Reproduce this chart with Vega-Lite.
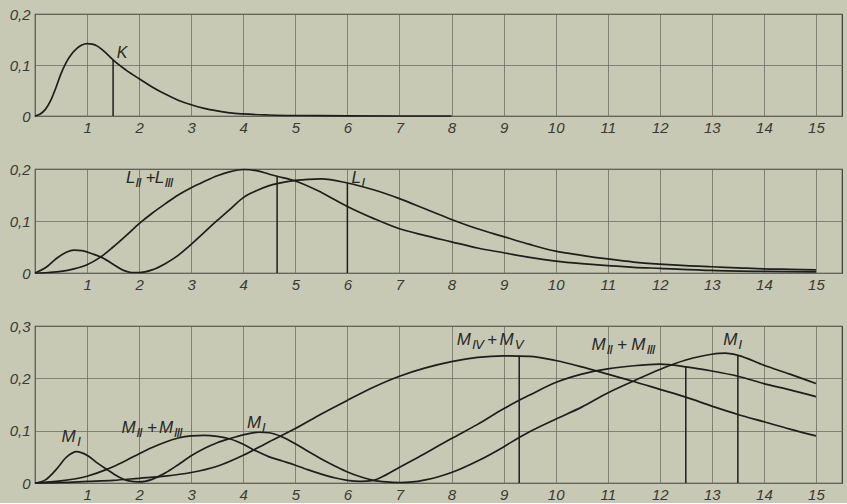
{
"$schema": "https://vega.github.io/schema/vega-lite/v6.json",
"padding": {"top": 6, "left": 8, "right": 5, "bottom": 0},
"background": "#c7c9b5",
"datasets": {
"curves": [
{"p":1,"s":"K","x":0,"y":0},{"p":1,"s":"K","x":0.1,"y":0.004},{"p":1,"s":"K","x":0.2,"y":0.013},{"p":1,"s":"K","x":0.3,"y":0.03},{"p":1,"s":"K","x":0.4,"y":0.055},{"p":1,"s":"K","x":0.5,"y":0.083},{"p":1,"s":"K","x":0.6,"y":0.105},{"p":1,"s":"K","x":0.7,"y":0.121},{"p":1,"s":"K","x":0.8,"y":0.132},{"p":1,"s":"K","x":0.9,"y":0.139},{"p":1,"s":"K","x":1.0,"y":0.142},{"p":1,"s":"K","x":1.1,"y":0.141},{"p":1,"s":"K","x":1.2,"y":0.137},{"p":1,"s":"K","x":1.3,"y":0.129},{"p":1,"s":"K","x":1.4,"y":0.12},{"p":1,"s":"K","x":1.5,"y":0.11},{"p":1,"s":"K","x":1.75,"y":0.09},{"p":1,"s":"K","x":2.0,"y":0.073},{"p":1,"s":"K","x":2.25,"y":0.057},{"p":1,"s":"K","x":2.5,"y":0.043},{"p":1,"s":"K","x":2.75,"y":0.031},{"p":1,"s":"K","x":3.0,"y":0.022},{"p":1,"s":"K","x":3.25,"y":0.015},{"p":1,"s":"K","x":3.5,"y":0.01},{"p":1,"s":"K","x":3.75,"y":0.006},{"p":1,"s":"K","x":4.0,"y":0.004},{"p":1,"s":"K","x":4.5,"y":0.002},{"p":1,"s":"K","x":5.0,"y":0.001},{"p":1,"s":"K","x":6.0,"y":0.0003},{"p":1,"s":"K","x":7.0,"y":0},{"p":1,"s":"K","x":8.0,"y":0},

{"p":2,"s":"LI","x":0,"y":0},{"p":2,"s":"LI","x":0.2,"y":0.01},{"p":2,"s":"LI","x":0.4,"y":0.027},{"p":2,"s":"LI","x":0.6,"y":0.04},{"p":2,"s":"LI","x":0.75,"y":0.044},{"p":2,"s":"LI","x":0.9,"y":0.043},{"p":2,"s":"LI","x":1.1,"y":0.037},{"p":2,"s":"LI","x":1.26,"y":0.031},{"p":2,"s":"LI","x":1.5,"y":0.017},{"p":2,"s":"LI","x":1.7,"y":0.005},{"p":2,"s":"LI","x":1.85,"y":0.001},{"p":2,"s":"LI","x":2.0,"y":0.001},{"p":2,"s":"LI","x":2.25,"y":0.006},{"p":2,"s":"LI","x":2.5,"y":0.018},{"p":2,"s":"LI","x":2.75,"y":0.034},{"p":2,"s":"LI","x":3.0,"y":0.055},{"p":2,"s":"LI","x":3.25,"y":0.078},{"p":2,"s":"LI","x":3.5,"y":0.101},{"p":2,"s":"LI","x":3.75,"y":0.123},{"p":2,"s":"LI","x":4.0,"y":0.145},{"p":2,"s":"LI","x":4.25,"y":0.158},{"p":2,"s":"LI","x":4.5,"y":0.168},{"p":2,"s":"LI","x":4.65,"y":0.172},{"p":2,"s":"LI","x":5.0,"y":0.178},{"p":2,"s":"LI","x":5.5,"y":0.181},{"p":2,"s":"LI","x":6.0,"y":0.173},{"p":2,"s":"LI","x":6.5,"y":0.16},{"p":2,"s":"LI","x":7.0,"y":0.143},{"p":2,"s":"LI","x":7.5,"y":0.123},{"p":2,"s":"LI","x":8.0,"y":0.103},{"p":2,"s":"LI","x":8.5,"y":0.085},{"p":2,"s":"LI","x":9.0,"y":0.07},{"p":2,"s":"LI","x":9.5,"y":0.055},{"p":2,"s":"LI","x":10.0,"y":0.042},{"p":2,"s":"LI","x":10.5,"y":0.034},{"p":2,"s":"LI","x":11.0,"y":0.027},{"p":2,"s":"LI","x":11.5,"y":0.021},{"p":2,"s":"LI","x":12.0,"y":0.017},{"p":2,"s":"LI","x":12.5,"y":0.014},{"p":2,"s":"LI","x":13.0,"y":0.012},{"p":2,"s":"LI","x":13.5,"y":0.01},{"p":2,"s":"LI","x":14.0,"y":0.008},{"p":2,"s":"LI","x":14.5,"y":0.007},{"p":2,"s":"LI","x":15.0,"y":0.006},

{"p":2,"s":"LII","x":0,"y":0},{"p":2,"s":"LII","x":0.25,"y":0.001},{"p":2,"s":"LII","x":0.5,"y":0.003},{"p":2,"s":"LII","x":0.75,"y":0.008},{"p":2,"s":"LII","x":1.0,"y":0.016},{"p":2,"s":"LII","x":1.25,"y":0.03},{"p":2,"s":"LII","x":1.5,"y":0.05},{"p":2,"s":"LII","x":1.75,"y":0.072},{"p":2,"s":"LII","x":2.0,"y":0.095},{"p":2,"s":"LII","x":2.25,"y":0.115},{"p":2,"s":"LII","x":2.5,"y":0.133},{"p":2,"s":"LII","x":2.75,"y":0.15},{"p":2,"s":"LII","x":3.0,"y":0.164},{"p":2,"s":"LII","x":3.25,"y":0.176},{"p":2,"s":"LII","x":3.5,"y":0.187},{"p":2,"s":"LII","x":3.75,"y":0.195},{"p":2,"s":"LII","x":4.0,"y":0.199},{"p":2,"s":"LII","x":4.25,"y":0.197},{"p":2,"s":"LII","x":4.5,"y":0.19},{"p":2,"s":"LII","x":4.65,"y":0.186},{"p":2,"s":"LII","x":5.0,"y":0.177},{"p":2,"s":"LII","x":5.5,"y":0.155},{"p":2,"s":"LII","x":6.0,"y":0.128},{"p":2,"s":"LII","x":6.5,"y":0.105},{"p":2,"s":"LII","x":7.0,"y":0.085},{"p":2,"s":"LII","x":7.5,"y":0.072},{"p":2,"s":"LII","x":8.0,"y":0.06},{"p":2,"s":"LII","x":8.5,"y":0.048},{"p":2,"s":"LII","x":9.0,"y":0.039},{"p":2,"s":"LII","x":9.5,"y":0.03},{"p":2,"s":"LII","x":10.0,"y":0.023},{"p":2,"s":"LII","x":10.5,"y":0.018},{"p":2,"s":"LII","x":11.0,"y":0.014},{"p":2,"s":"LII","x":11.5,"y":0.011},{"p":2,"s":"LII","x":12.0,"y":0.009},{"p":2,"s":"LII","x":13.0,"y":0.005},{"p":2,"s":"LII","x":14.0,"y":0.003},{"p":2,"s":"LII","x":15.0,"y":0.002},

{"p":3,"s":"MI","x":0,"y":0},{"p":3,"s":"MI","x":0.2,"y":0.006},{"p":3,"s":"MI","x":0.4,"y":0.025},{"p":3,"s":"MI","x":0.6,"y":0.049},{"p":3,"s":"MI","x":0.8,"y":0.06},{"p":3,"s":"MI","x":1.0,"y":0.053},{"p":3,"s":"MI","x":1.2,"y":0.038},{"p":3,"s":"MI","x":1.38,"y":0.026},{"p":3,"s":"MI","x":1.6,"y":0.012},{"p":3,"s":"MI","x":1.8,"y":0.004},{"p":3,"s":"MI","x":2.0,"y":0.002},{"p":3,"s":"MI","x":2.25,"y":0.007},{"p":3,"s":"MI","x":2.5,"y":0.019},{"p":3,"s":"MI","x":2.75,"y":0.035},{"p":3,"s":"MI","x":3.0,"y":0.052},{"p":3,"s":"MI","x":3.25,"y":0.066},{"p":3,"s":"MI","x":3.5,"y":0.077},{"p":3,"s":"MI","x":3.75,"y":0.085},{"p":3,"s":"MI","x":4.0,"y":0.092},{"p":3,"s":"MI","x":4.3,"y":0.097},{"p":3,"s":"MI","x":4.5,"y":0.096},{"p":3,"s":"MI","x":4.75,"y":0.088},{"p":3,"s":"MI","x":5.0,"y":0.075},{"p":3,"s":"MI","x":5.25,"y":0.06},{"p":3,"s":"MI","x":5.5,"y":0.046},{"p":3,"s":"MI","x":5.75,"y":0.033},{"p":3,"s":"MI","x":6.0,"y":0.021},{"p":3,"s":"MI","x":6.25,"y":0.012},{"p":3,"s":"MI","x":6.5,"y":0.005},{"p":3,"s":"MI","x":6.75,"y":0.002},{"p":3,"s":"MI","x":7.0,"y":0.001},{"p":3,"s":"MI","x":7.25,"y":0.002},{"p":3,"s":"MI","x":7.5,"y":0.006},{"p":3,"s":"MI","x":7.75,"y":0.012},{"p":3,"s":"MI","x":8.0,"y":0.02},{"p":3,"s":"MI","x":8.5,"y":0.042},{"p":3,"s":"MI","x":9.0,"y":0.069},{"p":3,"s":"MI","x":9.3,"y":0.087},{"p":3,"s":"MI","x":9.5,"y":0.098},{"p":3,"s":"MI","x":10.0,"y":0.122},{"p":3,"s":"MI","x":10.5,"y":0.145},{"p":3,"s":"MI","x":11.0,"y":0.172},{"p":3,"s":"MI","x":11.5,"y":0.195},{"p":3,"s":"MI","x":12.0,"y":0.217},{"p":3,"s":"MI","x":12.5,"y":0.235},{"p":3,"s":"MI","x":13.0,"y":0.246},{"p":3,"s":"MI","x":13.25,"y":0.248},{"p":3,"s":"MI","x":13.5,"y":0.244},{"p":3,"s":"MI","x":14.0,"y":0.225},{"p":3,"s":"MI","x":14.5,"y":0.208},{"p":3,"s":"MI","x":15.0,"y":0.19},

{"p":3,"s":"MII","x":0,"y":0},{"p":3,"s":"MII","x":0.5,"y":0.004},{"p":3,"s":"MII","x":1.0,"y":0.013},{"p":3,"s":"MII","x":1.38,"y":0.026},{"p":3,"s":"MII","x":1.5,"y":0.031},{"p":3,"s":"MII","x":1.75,"y":0.043},{"p":3,"s":"MII","x":2.0,"y":0.056},{"p":3,"s":"MII","x":2.25,"y":0.068},{"p":3,"s":"MII","x":2.5,"y":0.078},{"p":3,"s":"MII","x":2.75,"y":0.086},{"p":3,"s":"MII","x":3.0,"y":0.09},{"p":3,"s":"MII","x":3.25,"y":0.091},{"p":3,"s":"MII","x":3.5,"y":0.089},{"p":3,"s":"MII","x":3.75,"y":0.084},{"p":3,"s":"MII","x":4.0,"y":0.074},{"p":3,"s":"MII","x":4.25,"y":0.061},{"p":3,"s":"MII","x":4.5,"y":0.05},{"p":3,"s":"MII","x":4.75,"y":0.042},{"p":3,"s":"MII","x":5.0,"y":0.034},{"p":3,"s":"MII","x":5.25,"y":0.025},{"p":3,"s":"MII","x":5.5,"y":0.017},{"p":3,"s":"MII","x":5.75,"y":0.01},{"p":3,"s":"MII","x":6.0,"y":0.005},{"p":3,"s":"MII","x":6.25,"y":0.003},{"p":3,"s":"MII","x":6.5,"y":0.005},{"p":3,"s":"MII","x":6.75,"y":0.016},{"p":3,"s":"MII","x":7.0,"y":0.03},{"p":3,"s":"MII","x":7.5,"y":0.057},{"p":3,"s":"MII","x":8.0,"y":0.085},{"p":3,"s":"MII","x":8.5,"y":0.112},{"p":3,"s":"MII","x":9.0,"y":0.142},{"p":3,"s":"MII","x":9.3,"y":0.158},{"p":3,"s":"MII","x":9.5,"y":0.168},{"p":3,"s":"MII","x":10.0,"y":0.192},{"p":3,"s":"MII","x":10.5,"y":0.208},{"p":3,"s":"MII","x":11.0,"y":0.218},{"p":3,"s":"MII","x":11.5,"y":0.224},{"p":3,"s":"MII","x":12.0,"y":0.227},{"p":3,"s":"MII","x":12.5,"y":0.222},{"p":3,"s":"MII","x":13.0,"y":0.214},{"p":3,"s":"MII","x":13.5,"y":0.204},{"p":3,"s":"MII","x":14.0,"y":0.19},{"p":3,"s":"MII","x":14.5,"y":0.178},{"p":3,"s":"MII","x":15.0,"y":0.165},

{"p":3,"s":"MIV","x":0,"y":0},{"p":3,"s":"MIV","x":0.5,"y":0.001},{"p":3,"s":"MIV","x":1.0,"y":0.003},{"p":3,"s":"MIV","x":1.5,"y":0.005},{"p":3,"s":"MIV","x":2.0,"y":0.009},{"p":3,"s":"MIV","x":2.5,"y":0.013},{"p":3,"s":"MIV","x":3.0,"y":0.02},{"p":3,"s":"MIV","x":3.5,"y":0.032},{"p":3,"s":"MIV","x":4.0,"y":0.053},{"p":3,"s":"MIV","x":4.5,"y":0.079},{"p":3,"s":"MIV","x":5.0,"y":0.104},{"p":3,"s":"MIV","x":5.5,"y":0.132},{"p":3,"s":"MIV","x":6.0,"y":0.158},{"p":3,"s":"MIV","x":6.5,"y":0.183},{"p":3,"s":"MIV","x":7.0,"y":0.204},{"p":3,"s":"MIV","x":7.5,"y":0.22},{"p":3,"s":"MIV","x":8.0,"y":0.232},{"p":3,"s":"MIV","x":8.5,"y":0.24},{"p":3,"s":"MIV","x":9.0,"y":0.243},{"p":3,"s":"MIV","x":9.5,"y":0.242},{"p":3,"s":"MIV","x":10.0,"y":0.234},{"p":3,"s":"MIV","x":10.5,"y":0.222},{"p":3,"s":"MIV","x":11.0,"y":0.208},{"p":3,"s":"MIV","x":11.5,"y":0.194},{"p":3,"s":"MIV","x":12.0,"y":0.179},{"p":3,"s":"MIV","x":12.5,"y":0.164},{"p":3,"s":"MIV","x":13.0,"y":0.147},{"p":3,"s":"MIV","x":13.5,"y":0.131},{"p":3,"s":"MIV","x":14.0,"y":0.117},{"p":3,"s":"MIV","x":14.5,"y":0.103},{"p":3,"s":"MIV","x":15.0,"y":0.09}
],
"drops": [
{"p":1,"x":1.5,"y":0.11,"y0":0},
{"p":2,"x":4.65,"y":0.186,"y0":0},{"p":2,"x":6.0,"y":0.173,"y0":0},
{"p":3,"x":9.3,"y":0.243,"y0":0},{"p":3,"x":12.5,"y":0.222,"y0":0},{"p":3,"x":13.5,"y":0.244,"y0":0}
],
"labels": [
{"p":1,"k":"m","x":1.57,"y":0.113,"t":"K"},
{"p":2,"k":"m","x":1.75,"y":0.173,"t":"L"},{"p":2,"k":"s","x":1.93,"y":0.173,"t":"Ⅱ"},{"p":2,"k":"m","x":2.12,"y":0.173,"t":"+"},{"p":2,"k":"m","x":2.3,"y":0.173,"t":"L"},{"p":2,"k":"s","x":2.49,"y":0.173,"t":"Ⅲ"},
{"p":2,"k":"m","x":6.08,"y":0.174,"t":"L"},{"p":2,"k":"s","x":6.27,"y":0.174,"t":"Ⅰ"},
{"p":3,"k":"m","x":0.51,"y":0.079,"t":"M"},{"p":3,"k":"s","x":0.81,"y":0.079,"t":"Ⅰ"},
{"p":3,"k":"m","x":1.66,"y":0.096,"t":"M"},{"p":3,"k":"s","x":1.95,"y":0.096,"t":"Ⅱ"},{"p":3,"k":"m","x":2.15,"y":0.096,"t":"+"},{"p":3,"k":"m","x":2.38,"y":0.096,"t":"M"},{"p":3,"k":"s","x":2.67,"y":0.096,"t":"Ⅲ"},
{"p":3,"k":"m","x":4.07,"y":0.106,"t":"M"},{"p":3,"k":"s","x":4.36,"y":0.106,"t":"Ⅰ"},
{"p":3,"k":"m","x":8.1,"y":0.264,"t":"M"},{"p":3,"k":"s","x":8.4,"y":0.264,"t":"Ⅳ"},{"p":3,"k":"m","x":8.68,"y":0.264,"t":"+"},{"p":3,"k":"m","x":8.92,"y":0.264,"t":"M"},{"p":3,"k":"s","x":9.22,"y":0.264,"t":"Ⅴ"},
{"p":3,"k":"m","x":10.69,"y":0.255,"t":"M"},{"p":3,"k":"s","x":10.98,"y":0.255,"t":"Ⅱ"},{"p":3,"k":"m","x":11.18,"y":0.255,"t":"+"},{"p":3,"k":"m","x":11.45,"y":0.255,"t":"M"},{"p":3,"k":"s","x":11.75,"y":0.255,"t":"Ⅲ"},
{"p":3,"k":"m","x":13.22,"y":0.264,"t":"M"},{"p":3,"k":"s","x":13.51,"y":0.264,"t":"Ⅰ"}
]
},
"config": {
"view": {"stroke": "#3b3b35", "strokeWidth": 1.2},
"axis": {"grid": true, "gridColor": "#6f6f66", "gridWidth": 0.8, "domain": false, "ticks": false, "labelFont": "Liberation Sans", "labelFontStyle": "italic", "labelFontSize": 15, "labelColor": "#3a3a36", "title": null},
"concat": {"spacing": 25},
"line": {"interpolate": "monotone", "color": "#1e1e1c", "strokeWidth": 1.7},
"rule": {"color": "#1e1e1c", "strokeWidth": 1.5},
"text": {"font": "Liberation Sans, DejaVu Sans", "fontStyle": "italic", "color": "#2a2a26", "align": "left", "baseline": "alphabetic"}
},
"vconcat": [
{
"width": 807, "height": 102,
"layer": [
{"data": {"name": "curves"}, "transform": [{"filter": "datum.p == 1"}], "mark": "line",
 "encoding": {"x": {"field": "x", "type": "quantitative", "scale": {"domain": [0, 15.5], "nice": false}, "axis": {"values": [0,1,2,3,4,5,6,7,8,9,10,11,12,13,14,15], "labelExpr": "datum.value == 0 ? '' : datum.label", "labelPadding": 4}},
  "y": {"field": "y", "type": "quantitative", "scale": {"domain": [0, 0.2], "nice": false}, "axis": {"values": [0, 0.1, 0.2], "labelExpr": "datum.value == 0 ? '0' : replace(format(datum.value, '.1f'), '.', ',')", "labelPadding": 5}},
  "detail": {"field": "s"}}},
{"data": {"name": "drops"}, "transform": [{"filter": "datum.p == 1"}], "mark": "rule",
 "encoding": {"x": {"field": "x", "type": "quantitative"}, "y": {"field": "y", "type": "quantitative"}, "y2": {"field": "y0"}}},
{"data": {"name": "labels"}, "transform": [{"filter": "datum.p == 1 && datum.k == 'm'"}], "mark": {"type": "text", "fontSize": 16},
 "encoding": {"x": {"field": "x", "type": "quantitative"}, "y": {"field": "y", "type": "quantitative"}, "text": {"field": "t"}}}
]
},
{
"width": 807, "height": 104,
"layer": [
{"data": {"name": "curves"}, "transform": [{"filter": "datum.p == 2"}], "mark": "line",
 "encoding": {"x": {"field": "x", "type": "quantitative", "scale": {"domain": [0, 15.5], "nice": false}, "axis": {"values": [0,1,2,3,4,5,6,7,8,9,10,11,12,13,14,15], "labelExpr": "datum.value == 0 ? '' : datum.label", "labelPadding": 4}},
  "y": {"field": "y", "type": "quantitative", "scale": {"domain": [0, 0.2], "nice": false}, "axis": {"values": [0, 0.1, 0.2], "labelExpr": "datum.value == 0 ? '0' : replace(format(datum.value, '.1f'), '.', ',')", "labelPadding": 5}},
  "detail": {"field": "s"}}},
{"data": {"name": "drops"}, "transform": [{"filter": "datum.p == 2"}], "mark": "rule",
 "encoding": {"x": {"field": "x", "type": "quantitative"}, "y": {"field": "y", "type": "quantitative"}, "y2": {"field": "y0"}}},
{"data": {"name": "labels"}, "transform": [{"filter": "datum.p == 2 && datum.k == 'm'"}], "mark": {"type": "text", "fontSize": 17},
 "encoding": {"x": {"field": "x", "type": "quantitative"}, "y": {"field": "y", "type": "quantitative"}, "text": {"field": "t"}}},
{"data": {"name": "labels"}, "transform": [{"filter": "datum.p == 2 && datum.k == 's'"}], "mark": {"type": "text", "fontSize": 13, "dy": 4},
 "encoding": {"x": {"field": "x", "type": "quantitative"}, "y": {"field": "y", "type": "quantitative"}, "text": {"field": "t"}}}
]
},
{
"width": 807, "height": 157,
"layer": [
{"data": {"name": "curves"}, "transform": [{"filter": "datum.p == 3"}], "mark": "line",
 "encoding": {"x": {"field": "x", "type": "quantitative", "scale": {"domain": [0, 15.5], "nice": false}, "axis": {"values": [0,1,2,3,4,5,6,7,8,9,10,11,12,13,14,15], "labelExpr": "datum.value == 0 ? '' : datum.label", "labelPadding": 4}},
  "y": {"field": "y", "type": "quantitative", "scale": {"domain": [0, 0.3], "nice": false}, "axis": {"values": [0, 0.1, 0.2, 0.3], "labelExpr": "datum.value == 0 ? '0' : replace(format(datum.value, '.1f'), '.', ',')", "labelPadding": 5}},
  "detail": {"field": "s"}}},
{"data": {"name": "drops"}, "transform": [{"filter": "datum.p == 3"}], "mark": "rule",
 "encoding": {"x": {"field": "x", "type": "quantitative"}, "y": {"field": "y", "type": "quantitative"}, "y2": {"field": "y0"}}},
{"data": {"name": "labels"}, "transform": [{"filter": "datum.p == 3 && datum.k == 'm'"}], "mark": {"type": "text", "fontSize": 17},
 "encoding": {"x": {"field": "x", "type": "quantitative"}, "y": {"field": "y", "type": "quantitative"}, "text": {"field": "t"}}},
{"data": {"name": "labels"}, "transform": [{"filter": "datum.p == 3 && datum.k == 's'"}], "mark": {"type": "text", "fontSize": 13, "dy": 4},
 "encoding": {"x": {"field": "x", "type": "quantitative"}, "y": {"field": "y", "type": "quantitative"}, "text": {"field": "t"}}}
]
}
]
}
